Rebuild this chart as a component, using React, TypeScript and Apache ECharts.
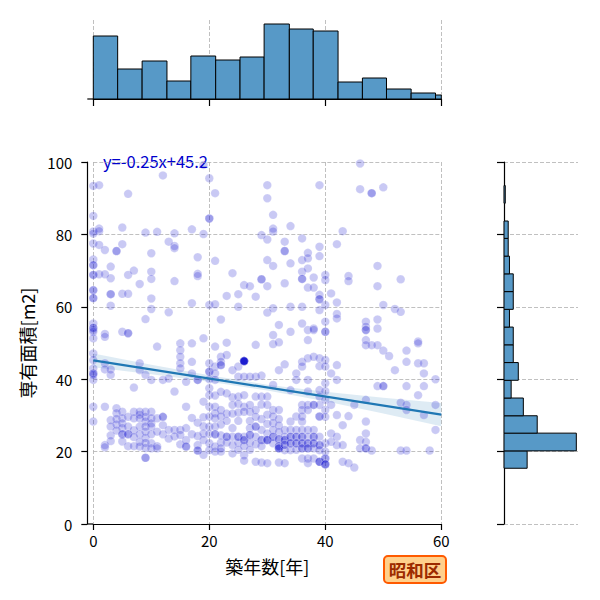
import React, { useEffect, useRef } from 'react';
import * as echarts from 'echarts';

const FONT = 'Noto Sans CJK JP';

// Scatter: [築年数, [専有面積...]]
const scatterColumns: [number, number[]][] = [
  [0, [93.4, 85.1, 80.8, 80.2, 77.5, 73.1, 71.5, 71.5, 68.8, 68.8, 64.6, 64.6, 62.4, 62.4, 55.4, 54.2, 54.2, 53.6, 53.1, 51.3, 47.1, 45.3, 43.0, 41.6, 41.6, 41.2, 39.8, 32.4, 28.3]],
  [1, [93.6, 81.6, 80.9, 77.1, 69.0]],
  [2, [75.7, 69.0, 52.5, 51.7, 44.4, 42.7, 32.4, 21.8, 21.2]],
  [3, [71.1, 67.9, 63.5, 63.5, 60.3, 42.7, 41.2, 28.7, 26.9, 24.5, 22.9]],
  [4, [75.4, 75.4, 32.0, 30.6, 29.0, 27.5, 25.8]],
  [5, [81.9, 77.3, 63.6, 53.1, 31.0, 29.2, 27.8, 26.5, 24.8, 24.8, 22.8]],
  [6, [91.2, 68.8, 63.6, 52.7, 52.7, 29.6, 26.9, 24.8, 24.8, 21.5]],
  [7, [70.0, 37.7, 31.0, 29.2, 25.9, 24.0, 21.5]],
  [8, [66.3, 44.4, 42.5, 31.0, 30.2, 29.2, 26.9, 24.8, 22.7, 21.4]],
  [9, [80.5, 56.6, 41.2, 31.0, 29.6, 28.3, 26.9, 25.5, 23.8, 22.4, 21.0, 18.3, 18.3]],
  [10, [74.8, 69.7, 67.7, 62.3, 59.4, 39.8, 31.0, 29.2, 27.8, 26.9, 24.8, 22.3, 20.9]],
  [11, [80.7, 49.0, 29.2, 25.5, 21.5, 20.9]],
  [12, [96.3, 39.8, 29.6, 29.6, 27.3, 24.8]],
  [13, [78.0, 58.5, 40.2, 26.0, 23.6]],
  [14, [80.3, 76.8, 76.2, 67.1, 36.6, 26.0, 24.2]],
  [15, [49.9, 48.0, 46.2, 44.4, 43.0, 26.0, 24.6, 22.0]],
  [16, [39.3, 32.4, 26.5, 23.2, 21.4, 21.4]],
  [17, [81.4, 61.0, 49.9, 44.8, 41.6, 29.3, 24.8]],
  [18, [73.7, 69.1, 68.5, 39.8, 39.8, 28.0, 24.3, 21.8, 20.3, 20.3]],
  [19, [99.2, 80.1, 51.3, 33.8, 29.5, 27.0, 25.0, 23.2, 19.1]],
  [20, [95.5, 84.4, 84.4, 60.5, 44.4, 42.1, 42.1, 40.0, 37.5, 35.6, 32.4, 29.7, 26.9, 24.9, 22.3, 20.4]],
  [21, [91.4, 72.7, 60.7, 49.0, 43.5, 41.6, 39.8, 35.5, 32.4, 30.6, 29.2, 26.9, 24.8, 24.8, 21.4, 20.0]],
  [22, [56.5, 46.2, 44.8, 43.9, 43.9, 36.5, 31.5, 29.7, 27.5, 24.5, 22.5, 20.9, 20.0]],
  [23, [63.0, 50.1, 46.7, 36.1, 30.5, 28.5, 24.1, 22.5, 24.1]],
  [24, [69.3, 42.5, 35.0, 32.9, 30.5, 26.5, 24.1, 21.8, 19.5]],
  [25, [63.5, 60.0, 43.5, 40.7, 35.2, 33.2, 30.8, 28.5, 24.1, 22.5, 20.5, 24.1]],
  [26, [66.0, 45.0, 45.0, 45.0, 45.0, 45.0, 45.0, 45.0, 45.0, 45.0, 40.7, 35.6, 32.4, 31.0, 24.1, 23.2, 21.5, 19.0, 17.5, 23.2]],
  [27, [65.7, 40.7, 32.9, 31.0, 28.5, 26.5, 24.6, 22.5, 20.5, 24.6]],
  [28, [62.8, 49.5, 40.7, 35.2, 31.5, 29.6, 26.9, 24.1, 22.0, 17.2, 26.9]],
  [29, [79.8, 67.6, 67.6, 41.0, 35.2, 33.0, 29.0, 26.0, 23.2, 21.5, 17.0, 23.2]],
  [30, [93.6, 90.0, 78.6, 72.9, 65.7, 58.4, 35.2, 32.9, 30.2, 27.7, 25.0, 23.2, 23.2, 23.2, 16.8]],
  [31, [85.4, 81.6, 80.8, 71.3, 59.6, 52.2, 49.7, 38.4, 31.5, 29.7, 27.9, 26.0, 24.1, 24.1, 22.3]],
  [32, [55.0, 50.2, 42.5, 31.5, 29.0, 27.2, 25.4, 23.4, 23.4, 21.5, 21.5, 20.9, 20.9, 20.9, 17.0]],
  [33, [78.0, 75.4, 75.4, 66.5, 44.1, 26.0, 24.1, 23.2, 23.2, 21.9, 21.9, 20.4, 16.8]],
  [34, [82.3, 72.0, 60.0, 53.1, 37.0, 28.3, 26.0, 24.1, 24.1, 22.3, 22.3, 20.4]],
  [35, [41.6, 39.8, 29.7, 26.0, 24.1, 24.1, 22.3, 22.3, 20.5]],
  [36, [78.9, 72.9, 69.7, 67.7, 67.7, 60.0, 55.4, 44.8, 43.5, 32.9, 31.5, 29.7, 28.3, 26.0, 24.1, 24.1, 22.3, 22.3, 20.9, 20.9, 18.1]],
  [37, [74.9, 73.4, 70.6, 65.3, 53.6, 50.8, 45.8, 39.8, 36.6, 32.9, 31.5, 26.0, 24.1, 22.3, 22.3, 20.9, 20.9, 18.1, 16.8]],
  [38, [68.1, 65.3, 54.0, 53.6, 46.2, 32.9, 32.9, 26.0, 24.1, 24.1, 22.3, 22.3, 20.9, 18.1]],
  [39, [93.6, 76.6, 74.0, 63.3, 62.1, 62.1, 59.1, 45.8, 43.6, 37.0, 35.2, 32.9, 29.7, 29.7, 24.1, 21.8, 21.8, 20.4, 17.2, 17.2, 17.2]],
  [40, [68.8, 67.4, 60.5, 55.9, 53.1, 53.1, 45.3, 43.5, 38.9, 36.7, 34.3, 31.5, 29.6, 22.3, 20.0, 18.1, 18.1, 16.5, 16.5, 16.5]],
  [41, [63.7, 41.6, 32.9, 25.0, 22.7]],
  [42, [77.3, 61.2, 58.0, 56.8, 43.9, 39.8, 30.1, 24.1, 21.8]],
  [43, [80.9, 27.3, 21.8, 17.2]],
  [44, [68.5, 67.1, 29.8, 16.8]],
  [45, [32.9, 15.6]],
  [46, [99.6, 92.5, 23.2, 20.9]],
  [47, [55.9, 54.5, 53.6, 53.6, 50.8, 49.4, 34.3, 28.3, 25.0, 22.7, 20.9, 20.9]],
  [48, [91.4, 91.4, 49.4, 20.3]],
  [49, [71.3, 65.7, 56.5, 54.0, 49.4, 38.1]],
  [50, [93.0, 60.5, 47.9, 38.1, 38.1]],
  [51, [46.4]],
  [52, [59.4, 42.5]],
  [53, [67.6, 58.6, 33.5, 20.3]],
  [54, [47.9, 44.8, 38.1, 32.9, 31.5, 20.3]],
  [56, [50.4, 49.9, 44.4, 35.6]],
  [57, [44.4, 41.6, 38.1, 30.1]],
  [58, [20.3]],
  [59, [40.0, 32.9, 26.0]],
];

// Top marginal histogram (築年数)
const topBinStart = [0, 4.2, 8.42, 12.7, 16.82, 21.1, 25.3, 29.45, 33.8, 37.92, 42.2, 46.4, 50.55, 54.8, 59.0];
const topBinEnd = [4.2, 8.42, 12.7, 16.82, 21.1, 25.3, 29.45, 33.8, 37.92, 42.2, 46.4, 50.55, 54.8, 59.0, 63.2];
const topCounts = [63, 30, 38, 18, 43, 39, 42, 75, 70, 68, 17, 21, 10, 6, 4];

// Right marginal histogram (専有面積)
const rightBinLow = [15.4, 20.2, 25.1, 29.9, 34.8, 39.7, 44.6, 49.5, 54.4, 59.3, 64.2, 69.1, 74.0, 78.9, 83.7, 88.6];
const rightBinHigh = [20.2, 25.1, 29.9, 34.8, 39.7, 44.6, 49.5, 54.4, 59.3, 64.2, 69.1, 74.0, 78.9, 83.7, 88.6, 93.5];
const rightCounts = [55, 172, 79, 46, 17, 34, 22, 22, 13, 22, 22, 13, 10, 10, 0, 3];

// Regression line and its confidence band
const lineX = [0, 60];
const lineY = [45.2, 30.2];
const bandX = [0, 10, 20, 30, 40, 50, 60];
const bandLow = [43.3, 41.4, 39.3, 36.9, 33.9, 30.5, 27.0];
const bandHigh = [47.1, 44.0, 41.1, 38.5, 36.5, 34.9, 33.4];

const xTicks = [0, 20, 40, 60];
const yTicks = [0, 20, 40, 60, 80, 100];
const equationLabel = 'y=-0.25x+45.2';
const wardLabel = '昭和区';

export default function App() {
  const ref = useRef<HTMLDivElement>(null);
  useEffect(() => {
    if (!ref.current) return;
    const chart = echarts.init(ref.current, null, { renderer: 'svg' });

    const scatterData: number[][] = [];
    scatterColumns.forEach(([x, ys]) => ys.forEach((y) => scatterData.push([x, y])));

    const gridLine = { show: true, lineStyle: { color: '#b0b0b0', type: [4, 2] as any, width: 0.8 } };
    const axisLine = { show: true, onZero: false, lineStyle: { color: '#000', width: 1.2 } };
    const axisTick = { show: true, inside: false, length: 6, lineStyle: { color: '#000', width: 1.2 } };
    const histColor = '#5799c7';

    const clipRect = (r: any, cs: any) =>
      echarts.graphic.clipRectByRect(r, { x: cs.x, y: cs.y, width: cs.width, height: cs.height });

    const option: any = {
      animation: false,
      backgroundColor: '#fff',
      textStyle: { fontFamily: FONT },
      grid: [
        { left: 93.3, top: 162, width: 348, height: 362 },
        { left: 93.3, top: 20, width: 348, height: 79 },
        { left: 504, top: 162, width: 74, height: 362 },
      ],
      xAxis: [
        {
          gridIndex: 0, type: 'value', min: xTicks[0], max: xTicks[xTicks.length - 1], interval: 20,
          axisLine, axisTick,
          axisLabel: { color: '#000', fontSize: 15, fontFamily: FONT, margin: 9 },
          splitLine: gridLine,
          name: '築年数[年]', nameLocation: 'middle', nameGap: 33,
          nameTextStyle: { fontSize: 18, color: '#000', fontFamily: FONT },
        },
        {
          gridIndex: 1, type: 'value', min: xTicks[0], max: xTicks[xTicks.length - 1], interval: 20,
          axisLine, axisTick: { ...axisTick, length: 7 }, axisLabel: { show: false }, splitLine: gridLine,
        },
        { gridIndex: 2, type: 'value', min: 0, max: 176, show: false },
      ],
      yAxis: [
        {
          gridIndex: 0, type: 'value', min: yTicks[0], max: yTicks[yTicks.length - 1], interval: 20, offset: 6,
          axisLine, axisTick,
          axisLabel: { color: '#000', fontSize: 15, fontFamily: FONT, margin: 15 },
          splitLine: gridLine,
          name: '専有面積[m2]', nameLocation: 'middle', nameGap: 47, nameRotate: 90,
          nameTextStyle: { fontSize: 18, color: '#000', fontFamily: FONT },
        },
        { gridIndex: 1, type: 'value', min: 0, max: 79, show: false },
        {
          gridIndex: 2, type: 'value', min: yTicks[0], max: yTicks[yTicks.length - 1], interval: 20,
          axisLine, axisTick: { ...axisTick, length: 7 }, axisLabel: { show: false }, splitLine: gridLine,
        },
      ],
      series: [
        {
          type: 'custom', xAxisIndex: 1, yAxisIndex: 1,
          data: topBinStart.map((s, i) => [s, topBinEnd[i], topCounts[i]]),
          encode: { x: [0, 1], y: 2 },
          renderItem: (params: any, api: any) => {
            const p0 = api.coord([api.value(0), api.value(2)]);
            const p1 = api.coord([api.value(1), 0]);
            const r = clipRect({ x: p0[0], y: p0[1], width: p1[0] - p0[0], height: p1[1] - p0[1] }, params.coordSys);
            if (!r) return null;
            return { type: 'rect', shape: r, style: { fill: histColor, stroke: '#000', lineWidth: 1 } };
          },
        },
        {
          type: 'custom', xAxisIndex: 2, yAxisIndex: 2,
          data: rightBinLow.map((s, i) => [s, rightBinHigh[i], rightCounts[i]]),
          encode: { y: [0, 1], x: 2 },
          renderItem: (params: any, api: any) => {
            if (api.value(2) <= 0) return null;
            const p0 = api.coord([0, api.value(1)]);
            const p1 = api.coord([api.value(2), api.value(0)]);
            return {
              type: 'rect',
              shape: { x: p0[0], y: p0[1], width: p1[0] - p0[0], height: p1[1] - p0[1] },
              style: { fill: histColor, stroke: '#000', lineWidth: 1 },
            };
          },
        },
        {
          type: 'scatter', xAxisIndex: 0, yAxisIndex: 0, data: scatterData,
          symbol: 'circle', symbolSize: 8.5,
          itemStyle: { color: '#0000cd', opacity: 0.21, borderColor: '#ffffff', borderWidth: 0.8 },
          emphasis: { disabled: true },
        },
        {
          type: 'custom', xAxisIndex: 0, yAxisIndex: 0, data: [[bandX[0], bandLow[0]]],
          renderItem: (params: any, api: any) => {
            const upper = bandX.map((x, i) => api.coord([x, bandHigh[i]]));
            const lower = bandX.map((x, i) => api.coord([x, bandLow[i]])).reverse();
            return {
              type: 'polygon',
              shape: { points: upper.concat(lower) },
              style: { fill: 'rgba(31,119,180,0.15)', stroke: 'none' },
            };
          },
        },
        {
          type: 'line', xAxisIndex: 0, yAxisIndex: 0,
          data: lineX.map((x, i) => [x, lineY[i]]),
          showSymbol: false, symbol: 'none',
          lineStyle: { color: '#1f77b4', width: 2.2 },
        },
      ],
      graphic: [
        { type: 'line', shape: { x1: 87.3, y1: 524, x2: 93.3, y2: 524 }, style: { stroke: '#000', lineWidth: 1.2 } },
        { type: 'line', shape: { x1: 87.3, y1: 99, x2: 93.3, y2: 99 }, style: { stroke: '#000', lineWidth: 1.2 } },
        {
          type: 'text', x: 103, y: 161,
          style: { text: equationLabel, fill: '#0000cd', font: `16.5px "${FONT}"`, verticalAlign: 'middle' },
        },
        {
          type: 'group', left: 383, top: 555,
          children: [
            {
              type: 'rect', shape: { x: 0, y: 0, width: 62, height: 27, r: 4 },
              style: { fill: '#ffd08c', stroke: '#ff5a00', lineWidth: 2 },
            },
            {
              type: 'text', x: 31, y: 13.5,
              style: {
                text: wardLabel, fill: '#9c2a00', font: `bold 17.5px "${FONT}"`,
                align: 'center', verticalAlign: 'middle',
              },
            },
          ],
        },
      ],
    };

    chart.setOption(option);
    return () => chart.dispose();
  }, []);

  return (
    <div
      ref={ref}
      style={{ position: 'fixed', left: 0, top: 0, width: 600, height: 600, background: '#fff' }}
    />
  );
}
